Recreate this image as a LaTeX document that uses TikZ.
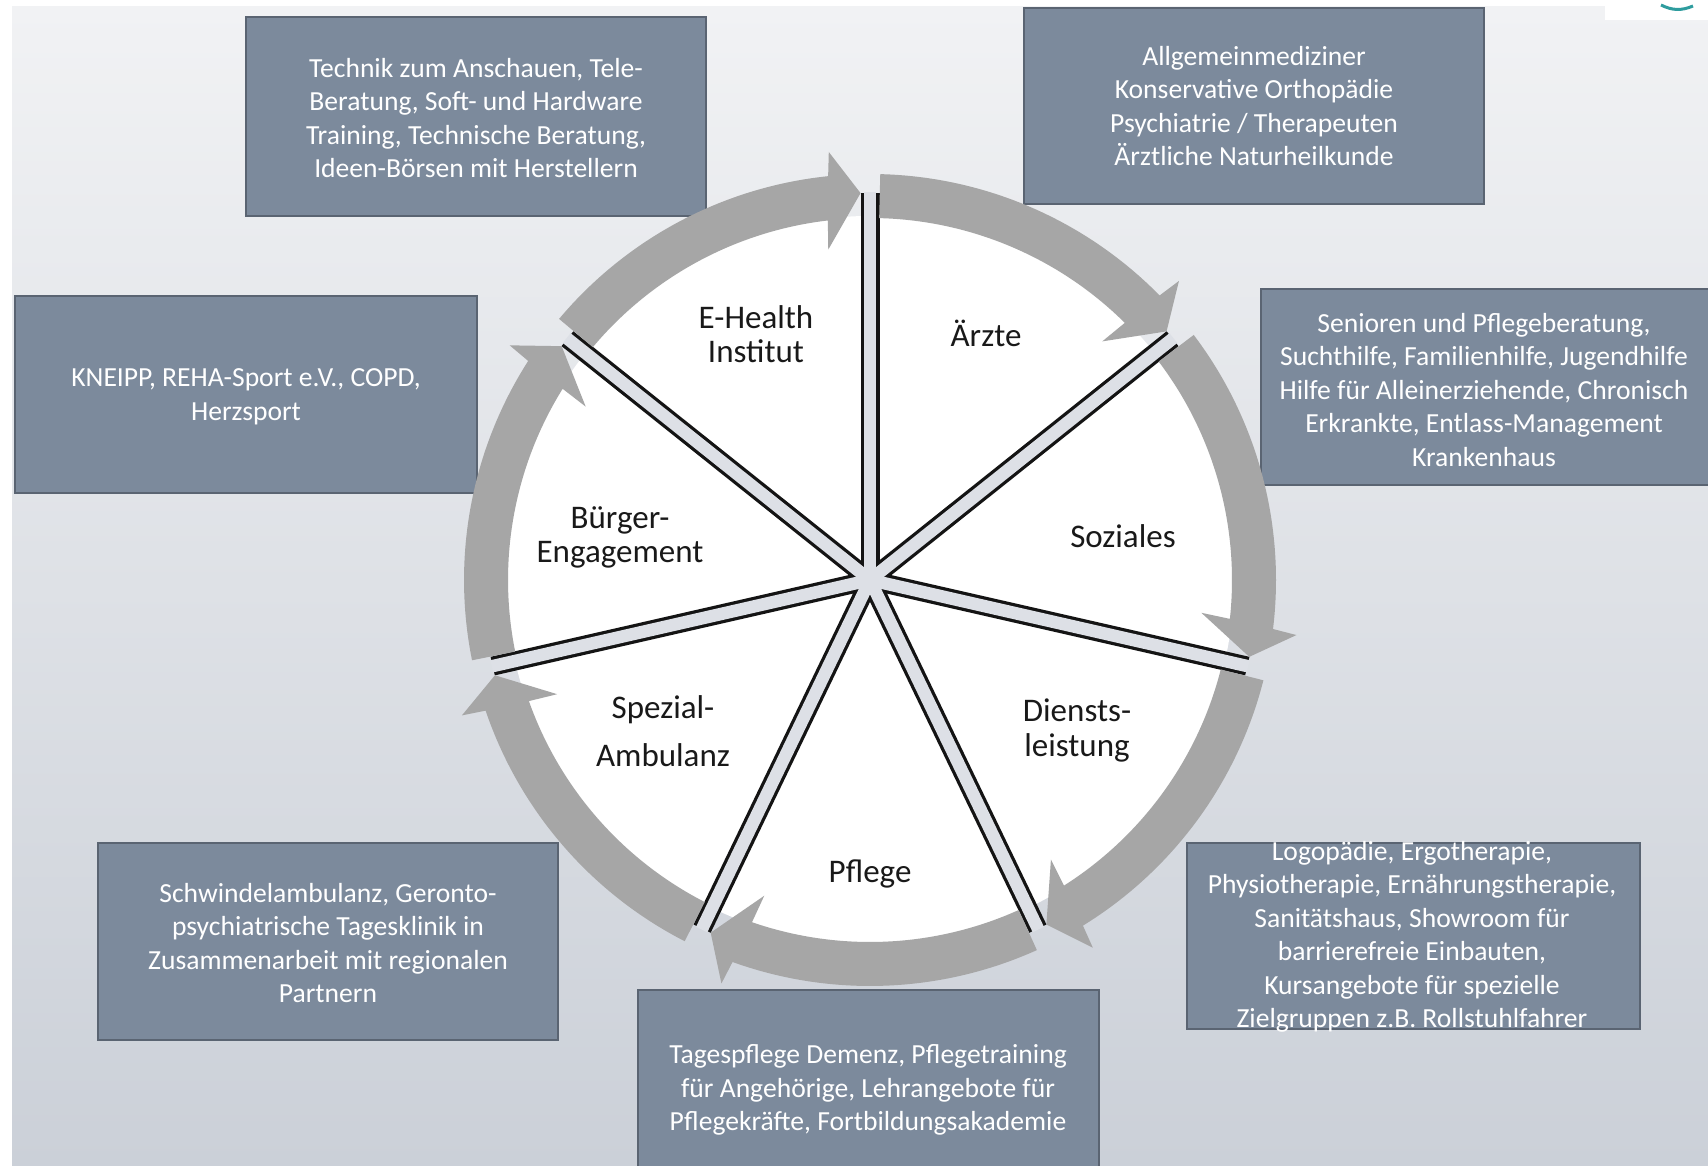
\documentclass[tikz,border=0pt]{standalone}
\usepackage{fontspec}
\setmainfont{Carlito}
\definecolor{bgtop}{HTML}{F1F2F4}
\definecolor{bgmid}{HTML}{DCDFE4}
\definecolor{bgbot}{HTML}{CBD0D8}
\definecolor{boxfill}{HTML}{7C8A9C}
\definecolor{boxline}{HTML}{5A6472}
\definecolor{arrowgray}{HTML}{A6A6A6}
\definecolor{spokefill}{HTML}{DDE0E6}
\definecolor{logoteal}{HTML}{2E9C9E}
\begin{document}
\begin{tikzpicture}[x=1pt,y=1pt,
  infobox/.style={fill=boxfill, draw=boxline, line width=2pt},
  infotext/.style={text=white, align=center, inner sep=0pt,
    font=\fontsize{27.6}{33.5}\selectfont},
  sector/.style={text=black!90, align=center, inner sep=0pt,
    font=\fontsize{33}{34}\selectfont},
  cyclearrow/.style={fill=arrowgray, draw=none},
]
\useasboundingbox (0,0) rectangle (1708,1166);

% page background
\fill[white] (0,0) rectangle (1708,1166);
\shade[top color=bgtop, middle color=bgmid, bottom color=bgbot]
  (12,0) rectangle (1708,1159);

% corner logo fragment
\fill[white] (1605,1146) rectangle (1708,1166);
\draw[logoteal, line width=3pt] (1661,1161) to[bend right=25] (1693,1160);

% information boxes
\draw[infobox] (246,950) rectangle (706,1149);
\draw[infobox] (1024,962) rectangle (1484,1158);
\draw[infobox] (1261,681) rectangle (1720,877);
\draw[infobox] (15,673) rectangle (477,870);
\draw[infobox] (1187,137) rectangle (1640,323);
\draw[infobox] (98,126) rectangle (558,323);
\draw[infobox] (638,-30) rectangle (1099,176);

\node[infotext] (tEhealth) at (476,1048)
  {Technik zum Anschauen, Tele-\\Beratung, Soft- und Hardware\\Training, Technische Beratung,\\Ideen-Börsen mit Herstellern};
\node[infotext] (tAerzte) at (1254,1060)
  {Allgemeinmediziner\\Konservative Orthopädie\\Psychiatrie / Therapeuten\\Ärztliche Naturheilkunde};
\node[infotext] (tSoziales) at (1484,776)
  {Senioren und Pflegeberatung,\\Suchthilfe, Familienhilfe, Jugendhilfe\\Hilfe für Alleinerziehende, Chronisch\\Erkrankte, Entlass-Management\\Krankenhaus};
\node[infotext] (tBuerger) at (246,769)
  {KNEIPP, REHA-Sport e.V., COPD,\\Herzsport};
\node[infotext] (tDienst) at (1412,229)
  {Logopädie, Ergotherapie,\\Physiotherapie, Ernährungstherapie,\\Sanitätshaus, Showroom für\\barrierefreie Einbauten,\\Kursangebote für spezielle\\Zielgruppen z.B. Rollstuhlfahrer};
\node[infotext] (tSpezial) at (328,223)
  {Schwindelambulanz, Geronto-\\psychiatrische Tagesklinik in\\Zusammenarbeit mit regionalen\\Partnern};
\node[infotext] (tPflege) at (868,76)
  {Tagespflege Demenz, Pflegetraining\\für Angehörige, Lehrangebote für\\Pflegekräfte, Fortbildungsakademie};

% the cycle
\coordinate (C) at (870,586);
\begin{scope}[shift={(C)}]
  % white disc
  \fill[white] (0,0) circle[radius=364];
  % spokes: black outline, light core
  \foreach \k in {0,...,6}{
    \pgfmathsetmacro\a{90-\k*360/7}
    \draw[line width=19pt, black!92] (0,0) -- (\a:387);
  }
  \foreach \k in {0,...,6}{
    \pgfmathsetmacro\a{90-\k*360/7}
    \draw[line width=12.5pt, spokefill] (0,0) -- (\a:388);
  }
  \fill[spokefill] (0,0) circle[radius=7];
  % clockwise arrows between the spokes
  \foreach \k in {0,...,6}{
    \pgfmathsetmacro\s{90-\k*360/7-1.45}
    \pgfmathsetmacro\e{90-(\k+1)*360/7}
    \pgfmathsetmacro\bo{\e+5.92}
    \pgfmathsetmacro\bi{\e+6.69}
    \pgfmathsetmacro\ho{\e+5.5}
    \pgfmathsetmacro\hi{\e+7.2}
    \pgfmathsetmacro\t{\e+1.4}
    \fill[cyclearrow] (\s:406) arc[start angle=\s, end angle=\bo, radius=406]
      -- (\ho:430) -- (\t:387) -- (\hi:333) -- (\bi:362)
      arc[start angle=\bi, end angle=\s, radius=362] -- cycle;
  }
\end{scope}

% sector labels
\node[sector] (sEhealth) at (756,832) {E-Health\\Institut};
\node[sector] (sAerzte) at (986,833) {Ärzte};
\node[sector] (sSoziales) at (1123,630) {Soziales};
\node[sector, font=\fontsize{33}{35}\selectfont] (sDienst) at (1077,436) {Diensts-\\leistung};
\node[sector] (sPflege) at (870,292) {Pflege};
\node[sector, font=\fontsize{33}{48}\selectfont] (sSpezial) at (663,435) {Spezial-\\Ambulanz};
\node[sector] (sBuerger) at (620,629) {Bürger-\\Engagement};
\end{tikzpicture}
\end{document}
